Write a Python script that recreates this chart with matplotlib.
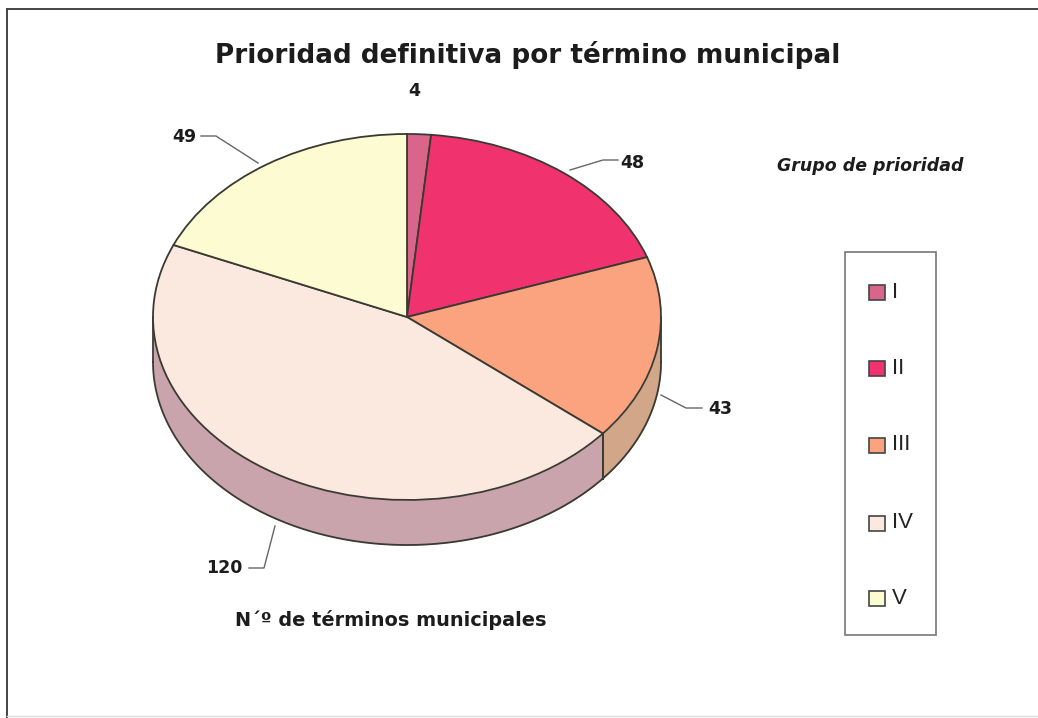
import numpy as np
import matplotlib
matplotlib.use("Agg")
import matplotlib.pyplot as plt
from matplotlib.patches import Rectangle

plt.rcParams["font.family"] = ["DejaVu Sans"]

W, H = 1038, 718

groups = ["I", "II", "III", "IV", "V"]
counts = [4, 48, 43, 120, 49]
top_colors = ["#D9668A", "#F0336E", "#FBA27E", "#FBE8DE", "#FDFBD2"]
wall_colors = ["#A85A70", "#B82858", "#D2A688", "#C9A4AC", "#C8C6A0"]
edge = "#3A3A32"
ink = "#1c1c1c"

# ellipse of the pie top, in pixels
cx, cy, rx, ry = 407, 317, 254, 183
depth = 45 / ry

fig = plt.figure(figsize=(W / 100, H / 100), dpi=100, facecolor="white")

# pixel overlay for frame, text, leaders and legend
pg = fig.add_axes([0, 0, 1, 1], zorder=3)
pg.set_xlim(0, W)
pg.set_ylim(H, 0)
pg.axis("off")
pg.patch.set_alpha(0)

# pie axes: unit circle stretched onto the ellipse
ax = fig.add_axes([(cx - rx * 1.3) / W, 1 - (cy + ry * 1.3) / H,
                   2.6 * rx / W, 2.6 * ry / H], zorder=2)
ax.pie(counts, colors=top_colors, startangle=90, counterclock=False, radius=1,
       wedgeprops=dict(edgecolor=edge, linewidth=1.3, zorder=3))
ax.set_aspect("auto")
ax.set_xlim(-1.3, 1.3)
ax.set_ylim(-1.3, 1.3)

# side wall of the front half, slice by slice
bounds = np.cumsum([0] + counts) / sum(counts) * 360
for i in range(len(counts)):
    a0, a1 = max(bounds[i], 90), min(bounds[i + 1], 270)
    if a1 <= a0:
        continue
    th = np.radians(np.linspace(a0, a1, 120))
    x, y = np.sin(th), np.cos(th)
    ax.fill_between(x, y - depth, y, color=wall_colors[i], linewidth=0, zorder=1)
    ax.plot(x, y - depth, color=edge, lw=1.3, zorder=2)
    ax.plot([x[0], x[0]], [y[0], y[0] - depth], color=edge, lw=1.3, zorder=2)
    ax.plot([x[-1], x[-1]], [y[-1], y[-1] - depth], color=edge, lw=1.3, zorder=2)

# frame of the scanned page
pg.plot([7, 7], [9, H], color="#444444", lw=1.4)
pg.plot([7, W], [9, 9], color="#444444", lw=1.4)
pg.plot([7, W], [H - 2, H - 2], color="#dddddd", lw=1)

pg.text(528, 55, "Prioridad definitiva por término municipal", ha="center", va="center",
        fontsize=18.9, fontweight="bold", color=ink)
pg.text(414, 91, "4", ha="center", va="center", fontsize=12.5, fontweight="bold", color=ink)
pg.text(184, 137, "49", ha="center", va="center", fontsize=12.5, fontweight="bold", color=ink)
pg.text(632, 163, "48", ha="center", va="center", fontsize=12.5, fontweight="bold", color=ink)
pg.text(720, 409, "43", ha="center", va="center", fontsize=12.5, fontweight="bold", color=ink)
pg.text(224, 568, "120", ha="center", va="center", fontsize=12.5, fontweight="bold", color=ink)
pg.text(391, 620, "N´º de términos municipales", ha="center", va="center",
        fontsize=13.9, fontweight="bold", color=ink)
pg.text(870, 166, "Grupo de prioridad", ha="center", va="center",
        fontsize=12.5, fontweight="bold", style="italic", color=ink)

# leader lines
leader = dict(color="#666666", lw=1)
pg.plot([201, 216, 258], [136, 136, 163], **leader)
pg.plot([570, 603, 618], [170, 160, 160], **leader)
pg.plot([661, 686, 702], [395, 408, 408], **leader)
pg.plot([275, 264, 249], [526, 568, 568], **leader)

# legend
pg.add_patch(Rectangle((845, 252), 91, 383, fc="white", ec="#777777", lw=1.2))
legend_y = [292, 368, 445, 523, 598]
for name, col, y in zip(groups, top_colors, legend_y):
    pg.add_patch(Rectangle((869, y - 7), 16, 15, fc=col, ec="#444444", lw=1.2))
    pg.text(892, y, name, ha="left", va="center", fontsize=16, color="#222222",
            family=["Liberation Sans", "DejaVu Sans"])

fig.savefig("out.png", dpi=100)
